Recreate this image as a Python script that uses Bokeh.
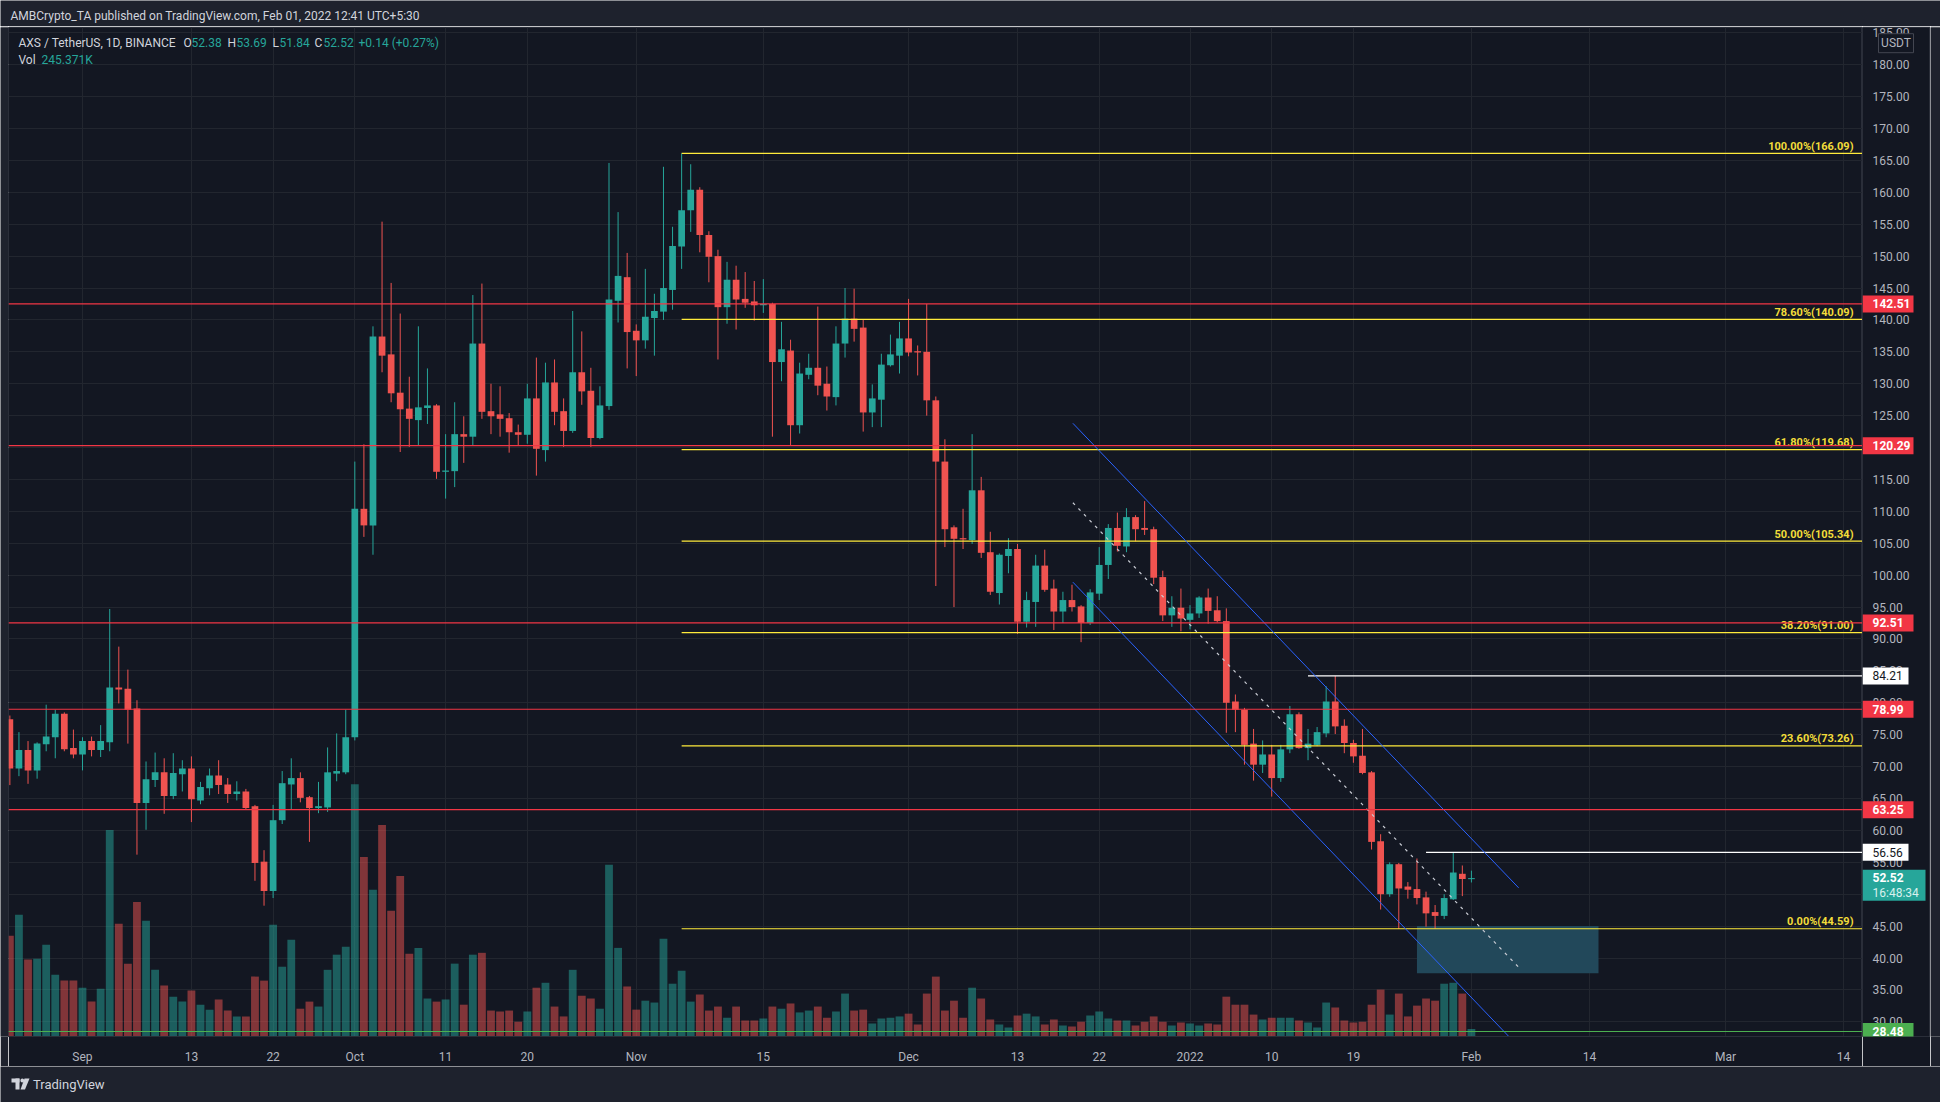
import pandas as pd
from bokeh.plotting import figure
from bokeh.layouts import column, row
from bokeh.models import (ColumnDataSource, Range1d, FixedTicker, Span, Label, Grid)
from bokeh.embed import file_html
from bokeh.resources import INLINE
from bokeh.core.properties import value

FONT = "Roboto"

# ---------------- data (daily AXS/USDT, Binance) ----------------
dates = pd.date_range("2021-08-24", "2022-02-01", freq="D")

opens = [
    77.4, 69.7, 72.6, 69.4, 73.5, 74.6, 78.3, 72.9,  # Aug 24-31
    71.9, 74.0, 72.6, 73.8, 82.4, 82.2, 79.1, 64.3, 67.9, 69.1, 65.4, 68.8, 69.7, 64.7, 66.6,
    68.6, 67.2, 65.7, 66.1, 63.8, 55.1, 50.5, 61.6, 67.2, 68.2, 65.2, 63.5, 63.6, 68.9, 69.1,  # Sep
    74.6, 110.4, 107.8, 137.4, 134.6, 128.6, 126.1, 124.3, 126.2, 126.6, 116.2, 116.3, 122.1, 121.7,
    136.3, 125.7, 125.2, 124.6, 122.4, 122.0, 127.7, 119.6, 130.2, 125.7, 122.6, 131.8, 128.9,
    121.5, 126.5, 143.0, 146.7,  # Oct
    138.3, 136.8, 140.3, 141.3, 144.7, 151.5, 157.2, 160.4, 153.3, 150.0, 142.0, 146.3, 143.3,
    142.9, 142.3, 142.5, 133.4, 135.2, 123.5, 131.4, 132.5, 130.0, 127.9, 136.3, 140.2, 138.8,
    125.5, 127.5, 132.9, 134.4,  # Nov
    137.1, 135.1, 135.0, 127.4, 117.8, 107.5, 105.8, 105.5, 113.3, 103.6, 97.2, 103.0, 104.1, 92.7,
    95.8, 101.5, 97.9, 94.3, 96.1, 95.1, 92.5, 97.1, 101.6, 107.4, 104.5, 109.1, 107.4, 107.2,
    99.7, 93.7, 94.9,  # Dec
    93.0, 94.0, 96.5, 94.5, 92.8, 80.2, 78.9, 73.6, 70.3, 71.9, 68.2, 72.7, 78.2, 72.9, 73.4, 75.2,
    80.2, 76.4, 73.7, 71.7, 69.1, 58.3, 50.0, 54.7, 51.2, 50.8, 49.5, 47.2, 46.6, 49.2, 53.2,  # Jan
    52.38,  # Feb 1
]
highs = [
    78.0, 75.4, 74.0, 73.8, 79.7, 78.9, 78.5, 75.8,
    74.6, 74.7, 76.5, 94.7, 88.8, 85.2, 80.4, 70.8, 72.2, 71.3, 72.1, 71.0, 71.6, 67.6, 69.7,
    71.0, 68.2, 67.7, 66.5, 64.0, 56.9, 64.0, 69.3, 71.3, 69.1, 65.4, 67.6, 73.0, 75.2, 78.9,
    117.8, 120.5, 139.0, 155.4, 145.8, 141.0, 131.1, 139.0, 132.4, 126.8, 122.1, 127.1, 124.9, 143.9,
    145.7, 130.0, 129.6, 125.4, 123.6, 130.0, 134.1, 133.3, 133.8, 127.7, 141.4, 138.2, 132.5,
    129.6, 164.6, 156.9, 150.5,
    139.3, 148.0, 144.1, 164.0, 154.6, 166.09, 164.4, 160.8, 153.9, 151.0, 149.1, 148.5, 147.5,
    146.1, 146.4, 142.7, 139.7, 136.9, 133.3, 134.7, 142.1, 132.7, 139.0, 145.0, 144.9, 140.0,
    129.9, 134.7, 137.7, 139.7,
    143.3, 136.0, 142.5, 128.0, 121.3, 107.8, 110.4, 122.1, 115.4, 106.8, 103.4, 105.8, 104.9, 97.4,
    103.2, 104.0, 99.3, 97.4, 98.5, 95.3, 97.8, 104.4, 108.0, 109.8, 110.5, 109.4, 111.6, 107.6,
    100.7, 96.7, 97.9,
    95.3, 96.7, 97.9, 96.7, 94.8, 81.3, 79.2, 75.9, 74.1, 73.4, 73.4, 79.5, 78.5, 75.9, 76.2, 82.6,
    84.21, 77.4, 74.2, 75.9, 69.3, 59.4, 55.0, 54.9, 51.9, 55.6, 50.4, 48.3, 50.0, 56.56, 54.5,
    53.69,
]
lows = [
    67.1, 68.5, 67.3, 68.1, 72.4, 71.3, 72.4, 71.3,
    69.4, 71.6, 71.5, 72.4, 79.9, 73.6, 56.2, 60.1, 66.8, 62.6, 64.9, 66.1, 61.3, 64.1, 65.5,
    65.7, 64.3, 64.7, 63.2, 52.1, 48.2, 49.4, 61.0, 63.3, 64.4, 58.2, 62.7, 62.9, 67.7, 68.8,
    74.1, 106.0, 103.2, 131.8, 127.1, 119.3, 120.1, 120.3, 123.7, 115.1, 112.0, 113.8, 117.6, 120.4,
    124.5, 122.1, 121.7, 119.2, 120.4, 120.6, 115.6, 117.8, 123.5, 120.1, 122.3, 126.7, 120.1,
    121.3, 125.9, 139.6, 132.4,
    131.2, 135.5, 134.4, 140.0, 141.6, 148.0, 153.8, 150.6, 145.9, 133.8, 139.4, 138.5, 141.9,
    139.9, 141.1, 121.7, 130.4, 120.4, 122.2, 130.7, 128.2, 125.8, 126.6, 134.1, 136.6, 122.5,
    123.2, 123.2, 132.7, 131.6,
    134.3, 131.3, 125.0, 98.3, 104.4, 95.0, 104.1, 104.9, 102.7, 96.9, 95.4, 100.3, 90.8, 91.8,
    91.9, 97.4, 91.4, 92.5, 94.3, 89.5, 92.2, 96.1, 99.4, 103.7, 103.6, 105.3, 106.3, 98.6,
    92.8, 91.9, 91.2,
    91.5, 93.3, 92.4, 92.6, 75.3, 75.4, 70.3, 67.8, 69.0, 65.3, 67.6, 72.1, 72.8, 71.0, 73.2, 74.6,
    75.1, 72.1, 70.6, 68.8, 57.0, 47.6, 49.6, 44.59, 49.3, 48.4, 44.9, 44.6, 46.1, 49.1, 49.7,
    51.84,
]
closes = [
    69.7, 72.6, 69.4, 73.6, 74.7, 78.3, 72.7, 71.9,
    74.0, 72.6, 74.0, 82.4, 82.1, 78.9, 64.3, 68.0, 69.1, 65.4, 69.0, 69.7, 64.9, 66.8, 68.6,
    67.1, 65.7, 66.1, 63.5, 54.9, 50.5, 61.6, 67.4, 68.2, 65.1, 63.5, 63.8, 69.1, 69.3, 74.6,
    110.4, 107.8, 137.4, 134.4, 128.5, 126.0, 124.5, 126.3, 126.6, 116.2, 116.4, 122.1, 121.7, 136.3,
    125.6, 124.9, 124.5, 122.4, 122.0, 127.7, 119.8, 130.2, 125.6, 122.6, 131.8, 128.8, 121.5,
    126.6, 143.2, 146.9, 138.1,
    136.8, 140.5, 141.4, 145.0, 151.6, 157.2, 160.4, 153.3, 149.9, 142.0, 146.3, 143.2, 142.7,
    142.3, 142.5, 133.4, 135.4, 123.5, 131.6, 132.5, 129.7, 128.0, 136.3, 140.2, 138.6, 125.5,
    127.7, 133.0, 134.6, 137.1,
    134.9, 134.9, 127.4, 117.8, 107.2, 105.7, 105.6, 113.3, 103.5, 97.4, 103.2, 104.1, 92.7, 96.1,
    101.5, 97.7, 94.3, 96.1, 95.0, 92.5, 97.3, 101.6, 107.4, 104.6, 109.1, 107.2, 107.1, 99.6,
    93.7, 94.9, 93.2,
    94.0, 96.5, 94.4, 92.8, 80.0, 78.9, 73.4, 70.3, 71.9, 68.2, 72.7, 78.2, 72.9, 73.6, 75.4, 80.2,
    76.3, 73.7, 71.6, 69.0, 58.2, 50.0, 54.7, 50.9, 50.7, 49.4, 47.0, 46.6, 49.4, 53.4, 52.38,
    52.52,
]
volumes_m = [
    3.26, 3.94, 2.49, 2.52, 2.97, 2.00, 1.81, 1.81,
    1.58, 1.13, 1.55, 6.69, 3.65, 2.36, 4.36, 3.75, 2.16, 1.65, 1.29, 1.13, 1.49, 1.03, 0.87,
    1.20, 0.84, 0.65, 0.65, 1.94, 1.81, 3.62, 2.26, 3.13, 0.90, 1.13, 0.97, 2.16, 2.65, 2.91,
    8.17, 5.81, 4.75, 6.85, 4.07, 5.20, 2.68, 2.87, 1.23, 1.13, 1.20, 2.36, 1.03, 2.65, 2.71,
    0.84, 0.81, 0.84, 0.48, 0.81, 1.58, 1.74, 0.97, 0.65, 2.16, 1.32, 1.23, 0.90, 5.56, 2.87, 1.62,
    0.87, 1.16, 1.10, 3.17, 1.71, 2.13, 1.13, 1.36, 0.84, 0.97, 0.61, 0.97, 0.52, 0.52, 0.58,
    0.97, 0.90, 1.07, 0.78, 0.84, 0.97, 0.61, 0.81, 1.39, 0.84, 0.87, 0.42, 0.58, 0.61, 0.65,
    0.74, 0.39, 1.39, 1.94, 0.84, 1.16, 0.61, 1.58, 1.23, 0.55, 0.39, 0.29, 0.68, 0.74, 0.65,
    0.39, 0.55, 0.36, 0.32, 0.48, 0.68, 0.81, 0.58, 0.52, 0.52, 0.36, 0.48, 0.65, 0.48, 0.36, 0.45,
    0.42, 0.36, 0.42, 0.39, 1.29, 1.03, 1.03, 0.71, 0.55, 0.61, 0.61, 0.61, 0.52, 0.45, 0.29,
    1.10, 0.94, 0.52, 0.45, 0.48, 1.03, 1.52, 0.71, 1.39, 0.65, 1.00, 1.23, 1.16, 1.71, 1.74, 1.39,
    0.245371,
]
assert len(opens) == len(highs) == len(lows) == len(closes) == len(volumes_m) == len(dates)

tick_dates = ["2021-09-01", "2021-09-13", "2021-09-22", "2021-10-01", "2021-10-11", "2021-10-20",
              "2021-11-01", "2021-11-15", "2021-12-01", "2021-12-13", "2021-12-22", "2022-01-01",
              "2022-01-10", "2022-01-19", "2022-02-01", "2022-02-14", "2022-03-01", "2022-03-14"]
tick_labels = ["Sep", "13", "22", "Oct", "11", "20", "Nov", "15", "Dec", "13", "22", "2022",
               "10", "19", "Feb", "14", "Mar", "14"]
price_ticks = list(range(30, 190, 5))

fib_pct = ["100.00%", "78.60%", "61.80%", "50.00%", "38.20%", "23.60%", "0.00%"]
fib_levels = [166.09, 140.09, 119.68, 105.34, 91.00, 73.26, 44.59]
fib_start = "2021-11-06"
red_levels = [142.51, 120.29, 92.51, 78.99, 63.25]
white_levels = [84.21, 56.56]
white_starts = ["2022-01-14", "2022-01-27"]
green_level = 28.48
countdown = "16:48:34"
channel_days = [109.1, 158.2]          # days from 2021-09-01
channel_upper = [123.8, 51.0]
channel_lower = [98.9, 26.1]
channel_mid = [111.35, 38.55]
zone_days = [147.0, 167.0]
zone_prices = [37.6, 45.0]

# ---------------- styling ----------------
BG = "#131722"
PAGE = "#1e222d"
GRID = "#22262f"
EDGE = "#2a2e39"
UP = "#26a69a"
DOWN = "#ef5350"
TXT = "#b2b5be"
LIGHT = "#d1d4dc"
RED = "#f23645"
YEL = "#ffeb3b"

origin = pd.Timestamp("2021-09-01")


def dnum(s):
    return (pd.Timestamp(s) - origin) / pd.Timedelta(days=1)


def blank(w, h):
    f = figure(width=w, height=h, x_range=(0, w), y_range=(h, 0), output_backend="svg",
               toolbar_location=None, x_axis_location=None, y_axis_location=None, min_border=0,
               background_fill_color=PAGE, border_fill_color=PAGE, outline_line_color=None)
    f.grid.visible = False
    return f


xs = [dnum(d) for d in dates]
tops, bots, cols = [], [], []
for o, c in zip(opens, closes):
    t, b = max(o, c), min(o, c)
    if t - b < 0.16:
        b = t - 0.16
    tops.append(t)
    bots.append(b)
    cols.append(UP if c >= o else DOWN)

src = ColumnDataSource(dict(x=xs, h=highs, l=lows, top=tops, bot=bots, col=cols, vol=volumes_m))

X0, X1 = -8.15, 196.08
Y0, Y1 = 27.70, 185.83

p = figure(width=1854, height=1040, x_range=Range1d(X0, X1), y_range=Range1d(Y0, Y1),
           output_backend="svg", toolbar_location=None, y_axis_location=None,
           min_border_left=0, min_border_right=0, min_border_top=1, min_border_bottom=27,
           background_fill_color=BG, border_fill_color=BG, outline_line_color=EDGE)
p.extra_y_ranges = {"vol": Range1d(0, max(volumes_m) * 1012 / 253)}

# time axis
tick_x = [int(round(dnum(s))) for s in tick_dates]
p.xaxis.ticker = FixedTicker(ticks=tick_x)
p.xaxis.major_label_overrides = {t: lab for t, lab in zip(tick_x, tick_labels)}
p.xaxis.axis_line_color = EDGE
p.xaxis.major_tick_line_color = None
p.xaxis.minor_tick_line_color = None
p.xaxis.major_label_text_color = TXT
p.xaxis.major_label_text_font = FONT
p.xaxis.major_label_text_font_size = "12px"
p.xaxis.major_label_standoff = 7
p.xgrid.grid_line_color = GRID
p.add_layout(Grid(dimension=1, ticker=FixedTicker(ticks=price_ticks), grid_line_color=GRID))

# volume
p.vbar(x="x", top="vol", bottom=0, width=0.86, fill_color="col", fill_alpha=0.5,
       line_color=None, y_range_name="vol", source=src)

# support zone box
p.quad(left=[zone_days[0]], right=[zone_days[1]], bottom=[zone_prices[0]], top=[zone_prices[1]],
       fill_color="#22485a", line_color=None)

# candles
p.segment(x0="x", y0="l", x1="x", y1="h", line_color="col", line_width=1, source=src)
p.vbar(x="x", top="top", bottom="bot", width=0.74, fill_color="col", line_color=None, source=src)

# horizontal levels
for lv in red_levels:
    p.add_layout(Span(location=lv, dimension="width", line_color=RED, line_width=1.2))
p.add_layout(Span(location=green_level, dimension="width", line_color="#4caf50", line_width=1.2))
fx0 = dnum(fib_start)
p.segment(x0=[fx0] * len(fib_levels), y0=fib_levels, x1=[X1] * len(fib_levels), y1=fib_levels,
          line_color=YEL, line_width=1.2)
p.segment(x0=[dnum(s) for s in white_starts], y0=white_levels, x1=[X1] * 2, y1=white_levels,
          line_color="#ffffff", line_width=1.1)

# channel
p.line(channel_days, channel_upper, line_color="#2962ff", line_width=1)
p.line(channel_days, channel_lower, line_color="#2962ff", line_width=1)
p.line(channel_days, channel_mid, line_color="#c8cbd3", line_width=1.2, line_dash="3 5")

# fib labels
p.text(x=[195.09] * len(fib_levels), y=fib_levels,
       text=[f"{pc}({lv:.2f})" for pc, lv in zip(fib_pct, fib_levels)],
       text_align="right", text_baseline="middle", y_offset=-7,
       text_color="#f2dd3a", text_font=value(FONT), text_font_size="11px",
       text_font_style="bold")

# legend (top-left)
chg = closes[-1] - closes[-2]
pct = chg / closes[-2] * 100
row1 = [("AXS / TetherUS, 1D, BINANCE", 18, LIGHT), ("O", 183, LIGHT), (f"{opens[-1]:.2f}", 191, UP),
        ("H", 227, LIGHT), (f"{highs[-1]:.2f}", 236, UP), ("L", 272, LIGHT), (f"{lows[-1]:.2f}", 279, UP),
        ("C", 314, LIGHT), (f"{closes[-1]:.2f}", 323, UP),
        (f"{chg:+.2f} ({pct:+.2f}%)", 358, UP)]
row2 = [("Vol", 18, LIGHT), (f"{volumes_m[-1] * 1000:.3f}K", 41, UP)]
for items, yy in ((row1, 183.44), (row2, 180.78)):
    for t, xr, c in items:
        p.add_layout(Label(x=xr - 8, y=yy, x_units="screen", y_units="data", text=t,
                           text_color=c, text_font=FONT, text_font_size="12px",
                           text_baseline="middle", text_align="left"))

# ---------------- price scale strip (shares the price scale) ----------------
ps = figure(width=68, height=1040, x_range=Range1d(0, 68), y_range=p.y_range,
            output_backend="svg", toolbar_location=None, x_axis_location=None, y_axis_location=None,
            min_border_left=0, min_border_right=0, min_border_top=1, min_border_bottom=27,
            background_fill_color=BG, border_fill_color=BG, outline_line_color=EDGE)
ps.grid.visible = False
ps.text(x=[10] * len(price_ticks), y=price_ticks, text=[f"{t:.2f}" for t in price_ticks],
        text_baseline="middle", text_align="left", text_color=TXT, text_font=value(FONT),
        text_font_size="12px")

tag_prices = red_levels + white_levels + [green_level]
tag_bg = [RED] * len(red_levels) + ["#ffffff"] * len(white_levels) + ["#4caf50"]
tag_fg = ["#ffffff"] * len(red_levels) + ["#131722"] * len(white_levels) + ["#ffffff"]
tag_w = [51] * len(red_levels) + [46] * len(white_levels) + [51]
ps.rect(x=[w / 2 for w in tag_w], y=tag_prices, width=tag_w, height=17, height_units="screen",
        fill_color=tag_bg, line_color=None)
ps.text(x=[10] * len(tag_prices), y=tag_prices, text=[f"{v:.2f}" for v in tag_prices],
        text_color=tag_fg, text_baseline="middle", text_align="left", text_font=value(FONT),
        text_font_size="12px",
        text_font_style=["bold"] * len(red_levels) + ["normal"] * len(white_levels) + ["bold"])
# last price tag with countdown
ps.rect(x=[31.5], y=[51.4], width=[63], height=31, height_units="screen",
        fill_color=UP, line_color=None)
ps.text(x=[10], y=[52.55], text=[f"{closes[-1]:.2f}"], text_color="#ffffff", text_baseline="middle",
        text_font=value(FONT), text_font_size="12px", text_font_style="bold")
ps.text(x=[10], y=[50.2], text=[countdown], text_color="#d8f1ee", text_baseline="middle",
        text_font=value(FONT), text_font_size="12px")
# currency badge
ps.rect(x=[33.5], y=[183.37], width=[35], height=19, height_units="screen",
        fill_color=BG, line_color="#434651", line_width=1)
ps.text(x=[33.5], y=[183.37], text=["USDT"], text_color=TXT, text_baseline="middle",
        text_align="center", text_font=value(FONT), text_font_size="12px")

# header (page pixels)
hdr = blank(1940, 26)
hdr.text(x=[10], y=[15], text=["AMBCrypto_TA published on TradingView.com, Feb 01, 2022 12:41 UTC+5:30"],
         text_font=value(FONT), text_font_size="12px", text_color=LIGHT, text_baseline="middle")

# footer (page pixels, origin at y=1066)
ftr = blank(1940, 36)
ftr.quad(left=[11, 15], right=[19, 19], top=[12, 12], bottom=[16, 23], fill_color=LIGHT, line_color=None)
ftr.circle(x=[21.8], y=[14], radius=1.9, fill_color=LIGHT, line_color=None)
ftr.patch(x=[24, 29, 24.5, 20], y=[12, 12, 23, 23], fill_color=LIGHT, line_color=None)
ftr.text(x=[32.5], y=[18], text=["TradingView"], text_font=value(FONT), text_font_size="13px",
         text_color=LIGHT, text_baseline="middle")

layout = column(hdr, row(blank(8, 1040), p, ps, blank(10, 1040)), ftr)
html = file_html(layout, INLINE, title="AXS / TetherUS")
html = html.replace("<body>", '<body style="background-color:#1e222d;margin:0;">', 1)
open("out.html", "w").write(html)
